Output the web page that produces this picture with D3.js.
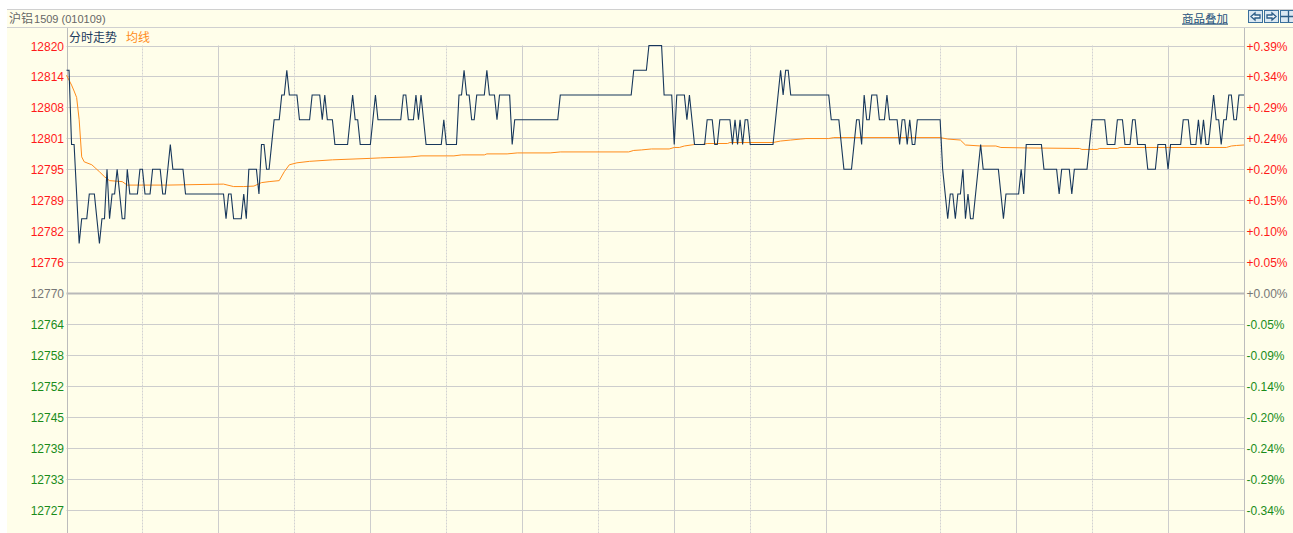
<!DOCTYPE html>
<html>
<head>
<meta charset="utf-8">
<script src="https://cdn.jsdelivr.net/npm/d3@7/dist/d3.min.js"></script>
<style>
  html, body { margin: 0; padding: 0; background: #ffffff; }
  svg { display: block; }
</style>
</head>
<body>
<svg id="chart" width="1293" height="533"></svg>
<script>
// Intraday chart, 沪铝1509 — one price per trading minute (21:00 night session to 15:00)
const pre_close = 12770;

// minute price, 466 points (rows of ten)
const minute_prices = [
  12815,12815,12800,12800,12790,12780,12785,12785,12785,12790,
  12790,12790,12785,12780,12785,12785,12795,12785,12790,12790,
  12795,12790,12785,12785,12795,12790,12790,12790,12790,12795,
  12795,12790,12790,12790,12795,12795,12795,12795,12790,12790,
  12795,12800,12795,12795,12795,12795,12795,12790,12790,12790,
  12790,12790,12790,12790,12790,12790,12790,12790,12790,12790,
  12790,12790,12790,12785,12790,12790,12785,12785,12785,12785,
  12790,12785,12795,12795,12795,12795,12790,12800,12800,12795,
  12795,12800,12805,12805,12805,12810,12810,12815,12810,12810,
  12810,12810,12805,12805,12805,12805,12805,12810,12810,12810,
  12810,12805,12810,12805,12805,12805,12800,12800,12800,12800,
  12800,12800,12805,12810,12805,12805,12800,12800,12800,12800,
  12800,12805,12810,12805,12805,12805,12805,12805,12805,12805,
  12805,12805,12805,12810,12810,12805,12805,12805,12810,12805,
  12810,12805,12800,12800,12800,12800,12800,12800,12800,12805,
  12800,12800,12800,12800,12800,12810,12810,12815,12810,12810,
  12805,12805,12810,12810,12810,12810,12815,12810,12810,12810,
  12805,12810,12810,12810,12810,12810,12800,12805,12805,12805,
  12805,12805,12805,12805,12805,12805,12805,12805,12805,12805,
  12805,12805,12805,12805,12805,12810,12810,12810,12810,12810,
  12810,12810,12810,12810,12810,12810,12810,12810,12810,12810,
  12810,12810,12810,12810,12810,12810,12810,12810,12810,12810,
  12810,12810,12810,12810,12815,12815,12815,12815,12815,12815,
  12820,12820,12820,12820,12820,12820,12810,12810,12810,12810,
  12800,12810,12810,12810,12810,12805,12810,12805,12800,12800,
  12800,12800,12800,12805,12805,12805,12800,12800,12805,12805,
  12805,12805,12805,12800,12805,12800,12805,12800,12805,12805,
  12800,12800,12800,12800,12800,12800,12800,12800,12800,12800,
  12805,12810,12815,12810,12815,12815,12810,12810,12810,12810,
  12810,12810,12810,12810,12810,12810,12810,12810,12810,12810,
  12810,12810,12805,12805,12805,12805,12800,12795,12795,12795,
  12795,12800,12805,12805,12800,12810,12805,12805,12810,12810,
  12810,12805,12805,12805,12810,12805,12805,12805,12805,12800,
  12805,12805,12800,12805,12800,12800,12805,12805,12805,12805,
  12805,12805,12805,12805,12805,12805,12795,12790,12785,12790,
  12790,12785,12790,12790,12795,12785,12790,12785,12785,12790,
  12795,12800,12795,12795,12795,12795,12795,12795,12795,12790,
  12785,12790,12790,12790,12790,12790,12790,12795,12790,12800,
  12800,12800,12800,12800,12800,12800,12795,12795,12795,12795,
  12795,12795,12790,12795,12795,12795,12795,12790,12795,12795,
  12795,12795,12795,12795,12800,12805,12805,12805,12805,12805,
  12805,12800,12800,12800,12800,12805,12805,12805,12800,12800,
  12800,12805,12805,12800,12800,12800,12800,12795,12795,12795,
  12795,12800,12800,12800,12800,12795,12800,12800,12800,12800,
  12800,12805,12805,12805,12800,12800,12800,12805,12800,12805,
  12800,12800,12805,12810,12805,12805,12800,12805,12805,12810,
  12810,12805,12805,12810,12810,12810
];

// average price line, read at the minutes where it changes slope
const avg_minutes = [0,1,2,3,4,5,6,7,10,13,15,17,22,24,40,62,66,70,74,77,80,84,86,88,91,96,
  105,120,124,136,140,153,156,165,166,174,178,191,195,222,224,227,231,238,240,242,244,248,251,253,
  261,262,279,282,286,290,292,301,303,345,348,353,355,361,367,369,380,400,401,407,408,415,416,
  458,460,462,465];
const avg_prices = [12814,12813,12812,12810.8,12809.5,12805,12797.5,12796.5,12795.9,12794.5,12793.5,
  12792.7,12792.5,12791.8,12791.8,12792,12791.5,12791.5,12791.6,12792.3,12792.5,12792.7,12794.5,
  12795.9,12796.3,12796.6,12796.9,12797.2,12797.3,12797.5,12797.7,12797.7,12797.9,12797.9,12798.1,
  12798.1,12798.3,12798.3,12798.5,12798.5,12798.8,12798.9,12799.1,12799.1,12799.4,12799.4,12799.7,
  12800,12800,12800.2,12800.2,12800.4,12800.4,12800.7,12800.9,12801.1,12801.2,12801.2,12801.4,
  12801.4,12801.1,12800.9,12799.9,12799.7,12799.7,12799.4,12799.3,12799.2,12799,12799,12799.2,
  12799.2,12799.4,12799.4,12799.7,12799.8,12799.9];

// price grid levels and their labels
const price_ticks = [12820, 12813.75, 12807.5, 12801.25, 12795, 12788.75, 12782.5, 12776.25, 12770,
  12763.75, 12757.5, 12751.25, 12745, 12738.75, 12732.5, 12726.25];
const price_labels = ['12820','12814','12808','12801','12795','12789','12782','12776','12770',
  '12764','12758','12752','12745','12739','12733','12727'];
const pct_labels = ['+0.39%','+0.34%','+0.29%','+0.24%','+0.20%','+0.15%','+0.10%','+0.05%','+0.00%',
  '-0.05%','-0.09%','-0.14%','-0.20%','-0.24%','-0.29%','-0.34%'];

// time grid, in trading minutes since 21:00 (full hour marks and half hour marks)
const total_minutes = 465;
const hour_ticks = [60, 120, 180, 240, 300, 375, 435];
const half_ticks = [30, 90, 150, 210, 270, 345, 405];

const width = 1293;
const height = 533;
const plot = { left: 66.5, right: 1244, top: 45.5, bottom: 533, header: 28 };
const bg = '#fffeea';
const grid_color = '#cdcdcd';

const svg = d3.select('#chart');

// 1. Backgrounds and header bar
svg.append('rect').attr('x', 7).attr('y', 9).attr('width', width - 7).attr('height', height - 9)
  .attr('fill', bg);
svg.append('line').attr('x1', 7).attr('x2', width).attr('y1', 9.5).attr('y2', 9.5)
  .attr('stroke', '#d0d0d0');
svg.append('line').attr('x1', 7).attr('x2', width).attr('y1', 27.5).attr('y2', 27.5)
  .attr('stroke', '#d0d0d0');

const title = svg.append('text').attr('x', 9).attr('y', 23)
  .attr('fill', '#666').attr('font-size', 12)
  .attr('font-family', '"Noto Sans CJK SC", sans-serif');
title.append('tspan').text('沪铝');
title.append('tspan').attr('font-size', 11).attr('font-family', '"Liberation Sans", sans-serif')
  .attr('dx', 1).text('1509 (010109)');

svg.append('text').attr('x', 1182).attr('y', 22.5)
  .attr('fill', '#24507c').attr('font-size', 11.5)
  .attr('font-family', '"Noto Sans CJK SC", sans-serif')
  .attr('text-decoration', 'underline')
  .text('商品叠加');

// small toolbar buttons on the right of the header
const btn_g = svg.append('g');
const icon_stroke = '#2c5d88';
[1248, 1264, 1280].forEach((bx, i) => {
  btn_g.append('rect').attr('x', bx + 0.5).attr('y', 10.5).attr('width', 14).attr('height', 12)
    .attr('fill', '#dbe8f2').attr('stroke', '#3a6f9c');
  const cy = 16.5;
  if (i === 0) {
    btn_g.append('path')
      .attr('d', `M${bx + 3},${cy} L${bx + 7},${cy - 3.5} L${bx + 7},${cy - 1.5} L${bx + 12},${cy - 1.5} L${bx + 12},${cy + 1.5} L${bx + 7},${cy + 1.5} L${bx + 7},${cy + 3.5} Z`)
      .attr('fill', '#f4f8fb').attr('stroke', icon_stroke).attr('stroke-width', 1.3);
  } else if (i === 1) {
    btn_g.append('path')
      .attr('d', `M${bx + 12},${cy} L${bx + 8},${cy - 3.5} L${bx + 8},${cy - 1.5} L${bx + 3},${cy - 1.5} L${bx + 3},${cy + 1.5} L${bx + 8},${cy + 1.5} L${bx + 8},${cy + 3.5} Z`)
      .attr('fill', '#f4f8fb').attr('stroke', icon_stroke).attr('stroke-width', 1.3);
  } else {
    btn_g.append('path')
      .attr('d', `M${bx + 1},${cy} L${bx + 14},${cy} M${bx + 8.5},${cy - 5.5} L${bx + 8.5},${cy + 5.5}`)
      .attr('fill', 'none').attr('stroke', icon_stroke).attr('stroke-width', 1.3);
  }
});

// 2. Scales
const x = d3.scaleLinear().domain([0, total_minutes]).range([plot.left, plot.right]);
const y = d3.scaleLinear().domain([12720, 12820]).range([540.5, plot.top]);

// 3. Grid
const grid_g = svg.append('g').attr('class', 'grid');

grid_g.selectAll('line.h')
  .data(price_ticks)
  .enter()
  .append('line')
  .attr('class', 'h')
  .attr('x1', plot.left).attr('x2', plot.right)
  .attr('y1', d => Math.round(y(d)) + 0.5)
  .attr('y2', d => Math.round(y(d)) + 0.5)
  .attr('stroke', d => d === pre_close ? '#b9b9b9' : grid_color)
  .attr('stroke-width', d => d === pre_close ? 2 : 1);

grid_g.selectAll('line.hour')
  .data(hour_ticks)
  .enter()
  .append('line')
  .attr('class', 'hour')
  .attr('x1', d => Math.round(x(d)) + 0.5).attr('x2', d => Math.round(x(d)) + 0.5)
  .attr('y1', plot.top).attr('y2', plot.bottom)
  .attr('stroke', grid_color);

grid_g.selectAll('line.half')
  .data(half_ticks)
  .enter()
  .append('line')
  .attr('class', 'half')
  .attr('x1', d => Math.round(x(d)) + 0.5).attr('x2', d => Math.round(x(d)) + 0.5)
  .attr('y1', plot.top).attr('y2', plot.bottom)
  .attr('stroke', '#d2d2d2')
  .attr('stroke-dasharray', '2,1');

// frame: left and right axes
[plot.left, plot.right].forEach(px => {
  grid_g.append('line')
    .attr('x1', Math.round(px) + 0.5).attr('x2', Math.round(px) + 0.5)
    .attr('y1', plot.header).attr('y2', plot.bottom)
    .attr('stroke', '#bcbcbc');
});

// 4. Axis labels
const label_color = d => d > pre_close ? '#ff1a1a' : (d < pre_close ? '#1a8c1a' : '#777777');

svg.append('g')
  .selectAll('text')
  .data(price_ticks)
  .enter()
  .append('text')
  .attr('x', plot.left - 2.5)
  .attr('y', d => y(d) + 5)
  .attr('text-anchor', 'end')
  .attr('font-size', 12)
  .attr('font-family', '"Liberation Sans", sans-serif')
  .attr('fill', label_color)
  .text((d, i) => price_labels[i]);

svg.append('g')
  .selectAll('text')
  .data(price_ticks)
  .enter()
  .append('text')
  .attr('x', plot.right + 2.5)
  .attr('y', d => y(d) + 5)
  .attr('text-anchor', 'start')
  .attr('font-size', 12)
  .attr('font-family', '"Liberation Sans", sans-serif')
  .attr('fill', label_color)
  .text((d, i) => pct_labels[i]);

// legend
const legend = svg.append('text').attr('x', 69).attr('y', 41.5)
  .attr('font-size', 12).attr('font-family', '"Noto Sans CJK SC", sans-serif');
legend.append('tspan').attr('fill', '#1d3c5e').text('分时走势');
legend.append('tspan').attr('fill', '#ff8c1a').attr('dx', 9).text('均线');

// 5. Lines
const avg_line = d3.line()
  .x((d, i) => x(avg_minutes[i]))
  .y(d => y(d));

svg.append('path')
  .datum(avg_prices)
  .attr('d', avg_line)
  .attr('fill', 'none')
  .attr('stroke', '#ff8c1a')
  .attr('stroke-width', 1);

const price_line = d3.line()
  .x((d, i) => x(i))
  .y(d => y(d));

svg.append('path')
  .datum(minute_prices)
  .attr('d', price_line)
  .attr('fill', 'none')
  .attr('stroke', '#17375b')
  .attr('stroke-width', 1.1);
</script>
</body>
</html>
